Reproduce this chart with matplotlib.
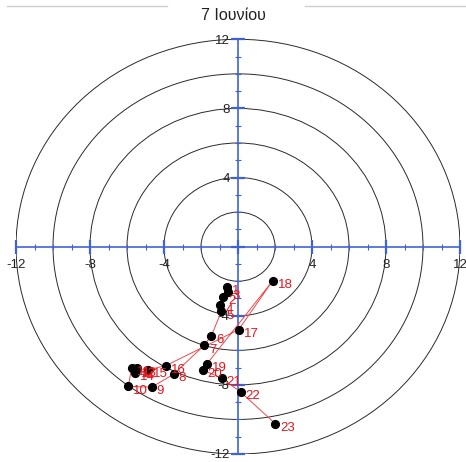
import numpy as np
import matplotlib
matplotlib.use("Agg")
import matplotlib.pyplot as plt
from matplotlib.patches import Circle
from matplotlib.ticker import MultipleLocator, FuncFormatter

plt.rcParams['font.family'] = ['Liberation Sans', 'DejaVu Sans']

# hodograph points (x, y) for hours 1..23
hours = list(range(1, 24))
xs = [-0.60, -0.80, -0.55, -0.95, -0.90, -1.44, -1.84, -3.48, -4.66, -5.93,
      -5.75, -5.51, -5.45, -5.57, -4.85, -3.89, 0.04, 1.87, -1.69, -1.91,
      -0.88, 0.15, 2.02]
ys = [-2.31, -2.90, -2.60, -3.40, -3.75, -5.16, -5.72, -7.38, -8.13, -8.09,
      -7.03, -7.13, -7.05, -7.32, -7.13, -6.88, -4.80, -1.98, -6.80, -7.13,
      -7.61, -8.42, -10.25]
ring_radii = [2, 4, 6, 8, 10, 12]
title = "7 Ιουνίου"

blue = "#3f63d6"

fig = plt.figure(figsize=(4.66, 4.62), dpi=100)
ax = fig.add_axes([16 / 466, 8 / 462, 444 / 466, 414.7 / 462])
ax.set_xlim(-12, 12)
ax.set_ylim(-12, 12)

for r in ring_radii:
    ax.add_patch(Circle((0, 0), r, fill=False, ec="#2a2a2a", lw=0.7, zorder=1))

# axes through the origin
for s in ["top", "right"]:
    ax.spines[s].set_visible(False)
for s in ["left", "bottom"]:
    ax.spines[s].set_position(("data", 0))
    ax.spines[s].set_color(blue)
    ax.spines[s].set_linewidth(1.2)
    ax.spines[s].set_zorder(3)

for axis in (ax.xaxis, ax.yaxis):
    axis.set_major_locator(MultipleLocator(4))
    axis.set_minor_locator(MultipleLocator(1))
    axis.set_major_formatter(FuncFormatter(lambda v, p: "" if v == 0 else "%d" % v))
ax.tick_params(which="major", direction="inout", length=10, width=1.6,
               color=blue, labelsize=9.5, labelcolor="#222222")
ax.tick_params(axis="x", which="major", pad=4)
ax.tick_params(axis="y", which="major", pad=1)
ax.tick_params(which="minor", direction="inout", length=5, width=0.8, color=blue)
for lab in ax.get_xticklabels() + ax.get_yticklabels():
    lab.set_clip_on(False)

ax.plot(xs, ys, color="#f04848", lw=0.7, zorder=4)
ax.plot(xs, ys, "o", color="black", ms=5.6, zorder=5, linestyle="none")
for h, x, y in zip(hours, xs, ys):
    ax.annotate(str(h), (x, y), xytext=(3.5, -3), textcoords="offset points",
                ha="left", va="center", color="#e8141c", fontsize=9.5, zorder=6)

fig.text(0.5, 1 - 15 / 462, title, ha="center", va="center", fontsize=11.5,
         color="#222222")

# light frame at top
fig.add_artist(plt.Line2D([7 / 466, 167 / 466], [1 - 6 / 462] * 2, color="#cfcfcf", lw=1))
fig.add_artist(plt.Line2D([305 / 466, 1], [1 - 6 / 462] * 2, color="#cfcfcf", lw=1))

fig.savefig("out.png", dpi=100)
